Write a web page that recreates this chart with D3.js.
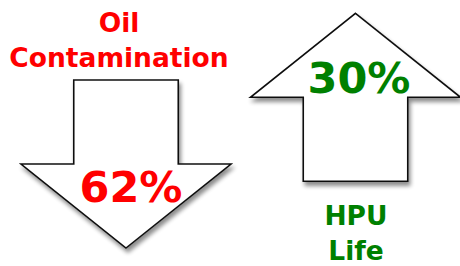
<!DOCTYPE html>
<html>
<head>
	<title>Oil Contamination vs HPU Life</title>
</head>
<body>

<svg class="chart"></svg>

<style type="text/css">
	body {
		margin: 0;
		background: #fff;
	}

	.chart {
		width: 460px;
		height: 266px;
		display: block;
	}

	.chart text {
		font-family: 'DejaVu Sans', Verdana, sans-serif;
		font-weight: bold;
		text-anchor: middle;
	}

	.chart .arrow {
		fill: #fff;
		stroke: #111;
		stroke-width: 1.6px;
		stroke-linejoin: miter;
	}
</style>

<script src="https://cdnjs.cloudflare.com/ajax/libs/d3/7.8.5/d3.min.js"></script>
<script type="text/javascript">
	// chart data
	var metrics = ['Oil Contamination', 'HPU Life']
	var labelLines = [['Oil', 'Contamination'], ['HPU', 'Life']]
	var changes = [-62, 30]
	var colors = ['#ff0000', '#008000']

	;(function() {
		'use strict'

		var width = 460
		var height = 266

		var svg = d3.select('.chart')
			.attr('viewBox', [0, 0, width, height])

		var defs = svg.append('defs')
		var shadow = defs.append('filter')
			.attr('id', 'shadow')
			.attr('x', '-20%').attr('y', '-20%')
			.attr('width', '140%').attr('height', '140%')
		shadow.append('feGaussianBlur')
			.attr('in', 'SourceAlpha')
			.attr('stdDeviation', 2.2)
		shadow.append('feOffset')
			.attr('dx', 1.5).attr('dy', 3.5)
			.attr('result', 'off')
		shadow.append('feComponentTransfer')
			.append('feFuncA').attr('type', 'linear').attr('slope', 0.45)
		var merge = shadow.append('feMerge')
		merge.append('feMergeNode')
		merge.append('feMergeNode').attr('in', 'SourceGraphic')

		var x = d3.scalePoint()
			.domain(metrics)
			.range([126, 355.5])

		// vertical position of the arrow body; up arrows sit higher
		var y = d3.scaleLinear()
			.domain([-1, 1])
			.range([248, 13.3])

		var arrowW = 210
		var shaftW = 104.5
		var headH = 84
		var length = 168

		function arrowPath(d) {
			var cx = x(d.metric)
			var dir = d.value < 0 ? 1 : -1 // 1 = pointing down
			var tip = y(Math.sign(d.value))
			var base = tip - dir * headH
			var tail = tip - dir * length
			var p = d3.path()
			p.moveTo(cx, tip)
			p.lineTo(cx + arrowW / 2, base)
			p.lineTo(cx + shaftW / 2, base)
			p.lineTo(cx + shaftW / 2, tail)
			p.lineTo(cx - shaftW / 2, tail)
			p.lineTo(cx - shaftW / 2, base)
			p.lineTo(cx - arrowW / 2, base)
			p.closePath()
			return p.toString()
		}

		var data = metrics.map(function(m, i) {
			return { metric: m, lines: labelLines[i], value: changes[i], color: colors[i] }
		})

		var g = svg.selectAll('.item')
			.data(data)
			.enter()
			.append('g')
			.attr('class', 'item')

		g.append('path')
			.attr('class', 'arrow')
			.attr('d', arrowPath)
			.attr('filter', 'url(#shadow)')

		// percentage inside the arrow head
		g.append('text')
			.attr('x', function(d) { return x(d.metric) + (d.value < 0 ? 5 : 3.5) })
			.attr('y', function(d) { return d.value < 0 ? 201.5 : 92.5 })
			.attr('fill', function(d) { return d.color })
			.style('font-size', '43px')
			.text(function(d) { return Math.abs(d.value) + '%' })

		// metric name: above a down arrow, below an up arrow
		g.each(function(d) {
			var first = d.value < 0 ? 31.7 : 225
			d3.select(this).selectAll('.label')
				.data(d.lines)
				.enter()
				.append('text')
				.attr('class', 'label')
				.attr('x', x(d.metric) + (d.value < 0 ? -7 : 0.5))
				.attr('y', function(t, i) { return first + i * 35 })
				.attr('fill', d.color)
				.style('font-size', '26.5px')
				.text(function(t) { return t })
		})
	})()
</script>
</body>
</html>
